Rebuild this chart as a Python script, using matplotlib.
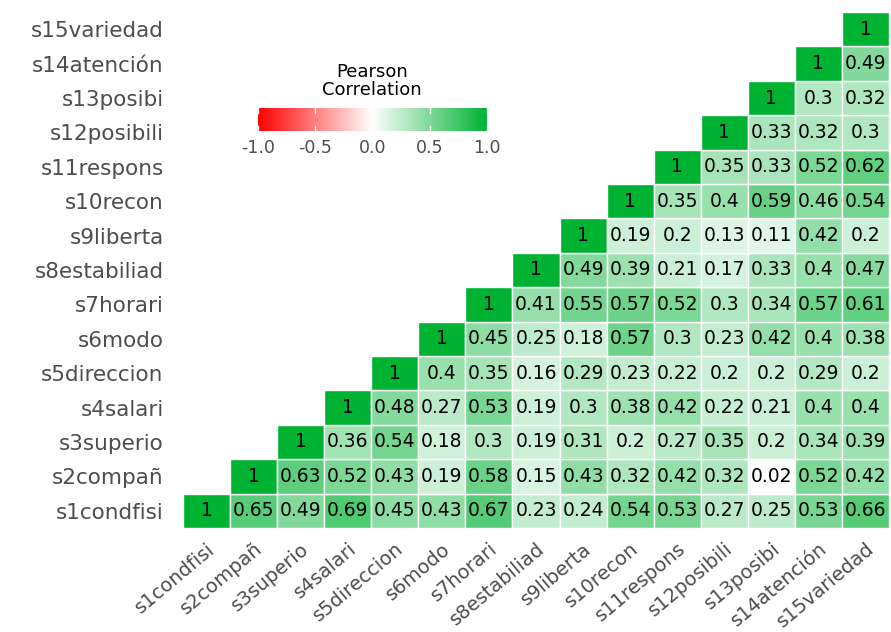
import numpy as np
import matplotlib
matplotlib.use('Agg')
import matplotlib.pyplot as plt
from matplotlib.colors import LinearSegmentedColormap, Normalize
from matplotlib.colorbar import ColorbarBase

labels = ['s1condfisi', 's2compañ', 's3superio', 's4salari', 's5direccion',
          's6modo', 's7horari', 's8estabiliad', 's9liberta', 's10recon',
          's11respons', 's12posibili', 's13posibi', 's14atención', 's15variedad']

# upper triangle, row i holds r(s_i, s_j) for j >= i
rows = [
    [1, 0.65, 0.49, 0.69, 0.45, 0.43, 0.67, 0.23, 0.24, 0.54, 0.53, 0.27, 0.25, 0.53, 0.66],
    [1, 0.63, 0.52, 0.43, 0.19, 0.58, 0.15, 0.43, 0.32, 0.42, 0.32, 0.02, 0.52, 0.42],
    [1, 0.36, 0.54, 0.18, 0.3, 0.19, 0.31, 0.2, 0.27, 0.35, 0.2, 0.34, 0.39],
    [1, 0.48, 0.27, 0.53, 0.19, 0.3, 0.38, 0.42, 0.22, 0.21, 0.4, 0.4],
    [1, 0.4, 0.35, 0.16, 0.29, 0.23, 0.22, 0.2, 0.2, 0.29, 0.2],
    [1, 0.45, 0.25, 0.18, 0.57, 0.3, 0.23, 0.42, 0.4, 0.38],
    [1, 0.41, 0.55, 0.57, 0.52, 0.3, 0.34, 0.57, 0.61],
    [1, 0.49, 0.39, 0.21, 0.17, 0.33, 0.4, 0.47],
    [1, 0.19, 0.2, 0.13, 0.11, 0.42, 0.2],
    [1, 0.35, 0.4, 0.59, 0.46, 0.54],
    [1, 0.35, 0.33, 0.52, 0.62],
    [1, 0.33, 0.32, 0.3],
    [1, 0.3, 0.32],
    [1, 0.49],
    [1],
]

n = len(labels)
cmap = LinearSegmentedColormap.from_list('rwg', ['#FF0000', '#FFFFFF', '#00B232'])
norm = Normalize(-1, 1)

fig = plt.figure(figsize=(8.91, 6.32), dpi=100)
ax = fig.add_axes([0.2054, 0.1646, 0.7924, 0.8164])

for i, r in enumerate(rows):
    for k, v in enumerate(r):
        j = i + k
        ax.add_patch(plt.Rectangle((j, i), 1, 1, facecolor=cmap(norm(v)),
                                   edgecolor='white', linewidth=1))
        ax.text(j + 0.5, i + 0.5, f'{v:g}', ha='center', va='center',
                fontsize=13.5, color='black')

ax.set_xlim(0, n)
ax.set_ylim(0, n)
ax.set_xticks(np.arange(n) + 0.5)
ax.set_yticks(np.arange(n) + 0.5)
ax.set_xticklabels(labels, rotation=40, ha='right', va='top',
                   rotation_mode='anchor', fontsize=14, color='#4D4D4D')
ax.set_yticklabels(labels, fontsize=15.5, color='#4D4D4D')
ax.tick_params(length=0)
ax.tick_params(axis='y', pad=14)
ax.tick_params(axis='x', pad=8)
for s in ax.spines.values():
    s.set_visible(False)

# legend colourbar
cax = fig.add_axes([0.2896, 0.7927, 0.257, 0.0364])
cb = ColorbarBase(cax, cmap=cmap, norm=norm, orientation='horizontal',
                  ticks=[-1, -0.5, 0, 0.5, 1])
cb.outline.set_visible(False)
cb.ax.set_xticklabels(['-1.0', '-0.5', '0.0', '0.5', '1.0'])
cb.ax.tick_params(length=0, labelsize=12.5, labelcolor='#4D4D4D', pad=6)
for t in [-1, -0.5, 0, 0.5, 1]:
    cax.plot([t, t], [0, 0.2], color='white', lw=1)
    cax.plot([t, t], [0.8, 1], color='white', lw=1)
cax.set_ylim(0, 1)
fig.text(0.4175, 0.872, 'Pearson\nCorrelation', ha='center', va='center',
         fontsize=13, color='black', linespacing=1.0)

fig.savefig('out.png', dpi=100)
